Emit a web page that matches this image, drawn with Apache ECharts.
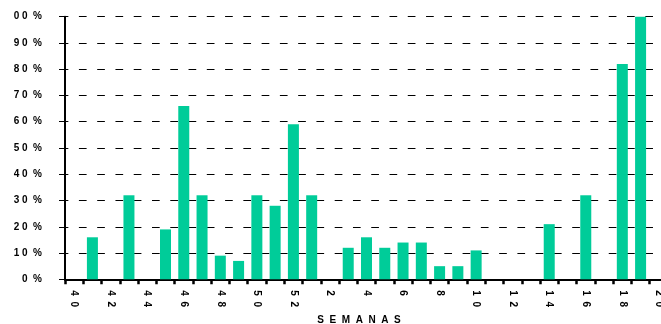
<!DOCTYPE html>
<html>
<head>
<meta charset="utf-8">
<script src="https://cdn.jsdelivr.net/npm/echarts@6/dist/echarts.min.js"></script>
<style>
html,body{margin:0;padding:0;background:#fff;}
#c{width:661px;height:324px;}
</style>
</head>
<body>
<div id="c"></div>
<script>
// Categories: epidemiological weeks
const weeks = ['40','41','42','43','44','45','46','47','48','49','50','51','52',
  '1','2','3','4','5','6','7','8','9','10','11','12','13','14','15','16','17','18','19','20'];
// Percent values per week
const percents = [0,16,0,32,0,19,66,32,9,7,32,28,59,
  32,0,12,16,12,14,14,5,5,11,0,0,0,21,0,32,0,82,100,0];
// Y axis ticks
const yMin = 0, yMax = 100, yStep = 10;
const axisTitle = 'SEMANAS';

const spaced = (s, sep) => String(s).split('').join(sep);

const chart = echarts.init(document.getElementById('c'), null, {renderer: 'canvas'});
chart.setOption({
  animation: false,
  backgroundColor: '#fff',
  grid: {left: 65, top: 16.7, width: 603, height: 262.6, containLabel: false, outerBoundsMode: 'none'},
  xAxis: {
    type: 'category',
    data: weeks,
    boundaryGap: true,
    name: spaced(axisTitle, '  '),
    nameLocation: 'middle',
    nameGap: 34,
    nameTextStyle: {fontFamily: 'Liberation Sans, Arial, sans-serif', fontWeight: 'bold', fontSize: 10, color: '#000', padding: [0, 15, 0, 0]},
    axisLine: {lineStyle: {color: '#000', width: 2}},
    axisTick: {show: true, interval: 0, length: 5, lineStyle: {color: '#000', width: 2.5}},
    axisLabel: {
      interval: 1,
      rotate: -90,
      margin: 11,
      padding: [0, 0, 5, 0],
      fontFamily: 'Liberation Sans, Arial, sans-serif',
      fontWeight: 'bold',
      fontSize: 10,
      color: '#000',
      formatter: v => spaced(v, '  ')
    },
    splitLine: {show: false}
  },
  yAxis: {
    type: 'value',
    min: yMin,
    max: yMax,
    interval: yStep,
    axisLine: {show: true, lineStyle: {color: '#000', width: 2}},
    axisTick: {show: true, length: 6, lineStyle: {color: '#000', width: 1}},
    axisLabel: {
      margin: 23,
      fontFamily: 'Liberation Sans, Arial, sans-serif',
      fontWeight: 'bold',
      fontSize: 10,
      color: '#000',
      formatter: v => spaced(v, ' ') + '  %'
    },
    splitLine: {show: true, lineStyle: {color: '#000', width: 1, type: [7.7, 10.57], dashOffset: 4.35}}
  },
  series: [{
    type: 'bar',
    data: percents,
    barWidth: 11,
    itemStyle: {color: '#00cc99'}
  }],
  graphic: [{
    type: 'rect',
    left: 0, top: 0,
    shape: {x: 0, y: 0, width: 13.5, height: 270},
    style: {fill: '#fff'},
    z: 100
  }]
});
</script>
</body>
</html>
